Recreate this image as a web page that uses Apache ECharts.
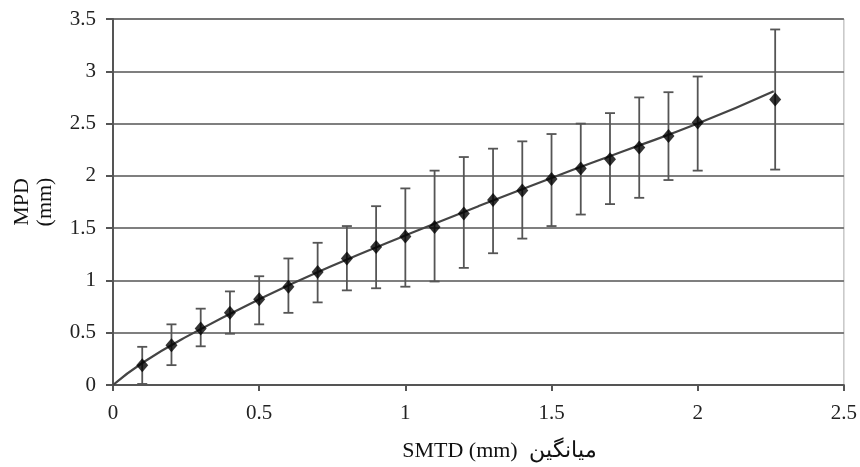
<!DOCTYPE html>
<html><head><meta charset="utf-8">
<script src="https://cdn.jsdelivr.net/npm/echarts@6/dist/echarts.min.js"></script>
<style>html,body{margin:0;padding:0;background:#fff}#c{width:860px;height:467px}</style>
</head><body><div id="c"></div>
<script>
const xValues = [0.1,0.2,0.3,0.4,0.5,0.6,0.7,0.8,0.9,1.0,1.1,1.2,1.3,1.4,1.5,1.6,1.7,1.8,1.9,2.0,2.265];
const meanValues = [0.19,0.38,0.54,0.69,0.82,0.94,1.08,1.21,1.32,1.42,1.51,1.64,1.77,1.86,1.97,2.07,2.16,2.27,2.38,2.51,2.73];
const lowValues  = [0.01,0.19,0.37,0.49,0.58,0.69,0.79,0.905,0.925,0.94,0.99,1.12,1.26,1.40,1.52,1.63,1.73,1.79,1.96,2.05,2.06];
const highValues = [0.365,0.58,0.73,0.895,1.04,1.21,1.36,1.52,1.71,1.88,2.05,2.18,2.26,2.33,2.40,2.50,2.60,2.75,2.80,2.95,3.40];
const curveX = [0,0.1,0.25,0.5,0.75,1.0,1.25,1.5,1.75,2.0,2.26];
const curveY = [0,0.21,0.46,0.82,1.14,1.43,1.71,1.98,2.24,2.50,2.81];
const xTicks = [0,0.5,1,1.5,2,2.5];
const yTicks = [0,0.5,1,1.5,2,2.5,3,3.5];

const font = '"Liberation Serif","DejaVu Serif",serif';
const chart = echarts.init(document.getElementById('c'));
chart.setOption({
  animation:false,
  grid:{left:113,right:16,top:19,bottom:81,show:true,borderColor:'#aaa',borderWidth:1},
  xAxis:{type:'value',min:0,max:2.5,interval:0.5,
    name:'SMTD (mm)  میانگین',nameLocation:'middle',nameGap:55,
    nameTextStyle:{fontFamily:font,fontSize:22,color:'#111',padding:[0,0,0,42]},
    axisLine:{lineStyle:{color:'#555',width:2}},
    axisTick:{show:true,length:6,lineStyle:{color:'#555',width:2}},
    axisLabel:{fontFamily:font,fontSize:21,color:'#222',margin:18,
      formatter:v=>xTicks.includes(v)?String(v):''},
    splitLine:{show:false}},
  yAxis:{type:'value',min:0,max:3.5,interval:0.5,
    name:'MPD\n(mm)',nameLocation:'middle',nameRotate:90,nameGap:56,
    nameTextStyle:{fontFamily:font,fontSize:22,color:'#111',lineHeight:23},
    axisLine:{show:true,lineStyle:{color:'#555',width:2}},
    axisTick:{show:true,length:7,lineStyle:{color:'#555',width:2}},
    axisLabel:{fontFamily:font,fontSize:21,color:'#222',margin:17,
      formatter:v=>yTicks.includes(v)?String(v):''},
    splitLine:{show:true,lineStyle:{color:'#555',width:1.6}}},
  series:[
    {type:'line',data:curveX.map((x,i)=>[x,curveY[i]]),smooth:true,showSymbol:false,
      lineStyle:{color:'#444',width:2.2},z:3},
    {type:'custom',data:xValues.map((x,i)=>[x,lowValues[i],highValues[i]]),z:2,
      renderItem:(params,api)=>{
        const lo=api.coord([api.value(0),api.value(1)]);
        const hi=api.coord([api.value(0),api.value(2)]);
        const w=5;
        const st={stroke:'#555',lineWidth:1.8};
        return {type:'group',children:[
          {type:'line',shape:{x1:lo[0],y1:lo[1],x2:hi[0],y2:hi[1]},style:st},
          {type:'line',shape:{x1:lo[0]-w,y1:lo[1],x2:lo[0]+w,y2:lo[1]},style:st},
          {type:'line',shape:{x1:hi[0]-w,y1:hi[1],x2:hi[0]+w,y2:hi[1]},style:st}
        ]};
      }},
    {type:'scatter',data:xValues.map((x,i)=>[x,meanValues[i]]),symbol:'diamond',symbolSize:[12,14],
      itemStyle:{color:'#000'},z:4}
  ]
});
</script></body></html>
